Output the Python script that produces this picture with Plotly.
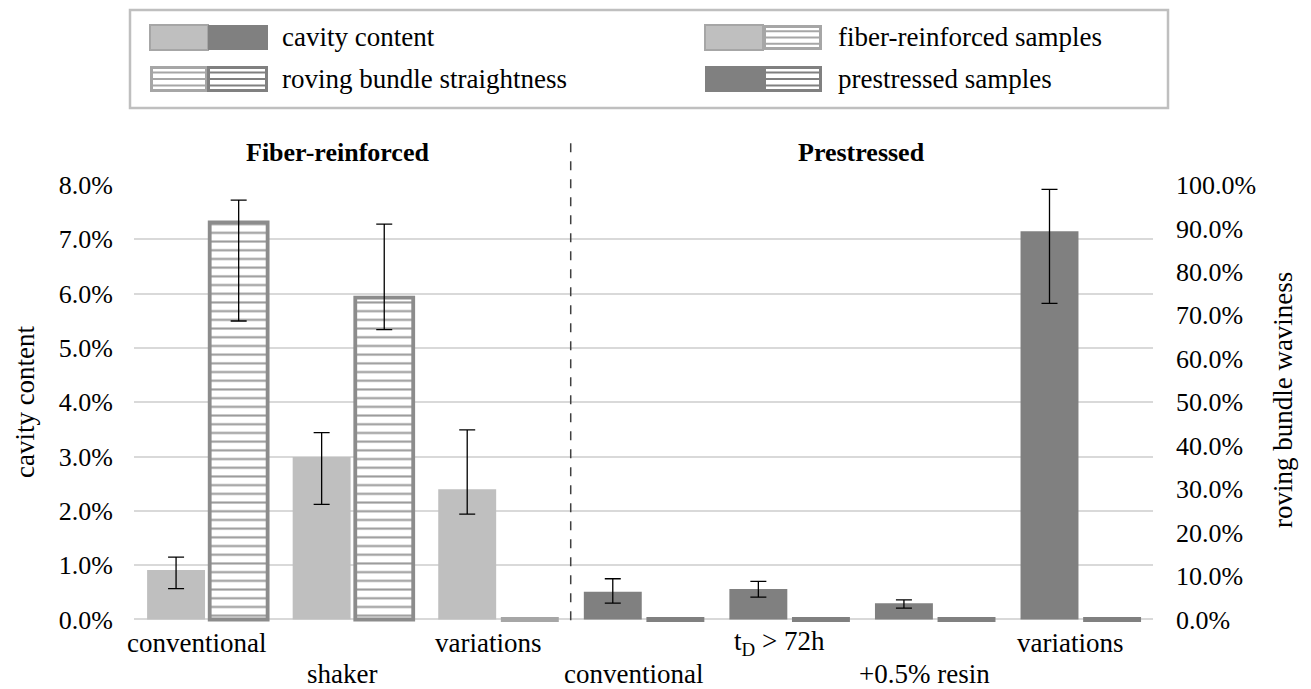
import plotly.graph_objects as go

# ---------------- data ----------------
categories = ["conventional", "shaker", "variations",
              "conventional", "t<sub>D</sub> &gt; 72h", "+0.5% resin", "variations"]
label_row = [1, 2, 1, 2, 1, 2, 1]
sample_group = ["fiber", "fiber", "fiber",
                "prestressed", "prestressed", "prestressed", "prestressed"]

cavity = [0.0091, 0.0299, 0.0240, 0.0051, 0.0056, 0.0030, 0.0715]
cavity_hi = [0.0115, 0.0344, 0.0349, 0.0075, 0.0070, 0.0036, 0.0792]
cavity_lo = [0.0057, 0.0212, 0.0194, 0.0030, 0.0041, 0.0021, 0.0582]

waviness = [0.914, 0.741, 0.0, 0.0, 0.0, 0.0, 0.0]
waviness_hi = [0.965, 0.910, None, None, None, None, None]
waviness_lo = [0.687, 0.667, None, None, None, None, None]

section_titles = ["Fiber-reinforced", "Prestressed"]
legend_labels = ["cavity content", "roving bundle straightness",
                 "fiber-reinforced samples", "prestressed samples"]

# ---------------- styles ----------------
W, H = 1311, 689
ML, MR, MT = 134, 158, 185
ZERO_Y = 619.3            # pixel row of the 0 line
Y1_MAX, Y2_MAX = 0.08, 1.0
PAD = 0.015               # fraction of range shown below zero (room for zero bars)
PH = (ZERO_Y - MT) * (1 + PAD)
MB = H - MT - PH
PW = W - ML - MR

LIGHT = "#bfbfbf"
LIGHT_EDGE = "#a6a6a6"
DARK = "#808080"
HATCH_FIBER = "#8c8c8c"
FONT = "Liberation Serif, Times New Roman, serif"
FS = 26
FS_TXT = 27

x = list(range(len(categories)))
fill_colors = [LIGHT if g == "fiber" else DARK for g in sample_group]
edge_colors = []
edge_widths = []
for g, v in zip(sample_group, waviness):
    if g == "fiber":
        edge_colors.append(HATCH_FIBER if v > 0 else LIGHT_EDGE)
    else:
        edge_colors.append(DARK)
    edge_widths.append(3.8 if v > 0 else 5)


def err(vals, hi, lo):
    plus = [None if h is None else h - v for v, h in zip(vals, hi)]
    minus = [None if l is None else v - l for v, l in zip(vals, lo)]
    # drop trailing missing entries so no error bar is drawn for them
    while plus and plus[-1] is None:
        plus.pop()
    while minus and minus[-1] is None:
        minus.pop()
    return plus, minus


cp, cm = err(cavity, cavity_hi, cavity_lo)
wp, wm = err(waviness, waviness_hi, waviness_lo)

bar_w = 0.398
fig = go.Figure()
fig.add_trace(go.Bar(
    x=x, y=cavity, yaxis="y", width=bar_w, offset=-0.41,
    marker=dict(color=fill_colors, line=dict(width=0)),
    error_y=dict(type="data", array=cp, arrayminus=cm, color="black",
                 thickness=1.3, width=8, visible=True),
    showlegend=False, hoverinfo="skip",
))
fig.add_trace(go.Bar(
    x=x, y=waviness, yaxis="y2", width=bar_w, offset=0.02,
    marker=dict(color="white", line=dict(width=edge_widths, color=edge_colors),
                pattern=dict(shape="-", size=8.7, solidity=0.24,
                             fgcolor="#9a9a9a", bgcolor="white",
                             fillmode="replace")),
    error_y=dict(type="data", array=wp, arrayminus=wm, color="black",
                 thickness=1.3, width=8, visible=True),
    showlegend=False, hoverinfo="skip",
))

fig.update_layout(
    width=W, height=H,
    margin=dict(l=ML, r=MR, t=MT, b=MB, autoexpand=False),
    paper_bgcolor="white", plot_bgcolor="white",
    font=dict(family=FONT, size=FS, color="black"),
    barmode="overlay",
    showlegend=False,
    xaxis=dict(range=[-0.5, 6.5], showticklabels=False,
               showgrid=False, zeroline=False, showline=False,
               ticks="", fixedrange=True),
    yaxis=dict(range=[-Y1_MAX * PAD, Y1_MAX], tick0=0, dtick=0.01, tickformat=".1%",
               showgrid=True, gridcolor="#d9d9d9", gridwidth=2,
               zeroline=False, showline=False, ticks="",
               ticklabelstandoff=20, tickfont=dict(size=FS)),
    yaxis2=dict(range=[-Y2_MAX * PAD, Y2_MAX], tick0=0, dtick=0.1, tickformat=".1%",
                overlaying="y", side="right", showgrid=False,
                zeroline=False, showline=False, ticks="",
                ticklabelstandoff=22, tickfont=dict(size=FS)),
)


def px(xp):
    return (xp - ML) / PW


def py(yp):
    return (H - MB - yp) / PH


shapes = []
annotations = []

# category labels (two staggered rows)
for xi, (lab, row) in enumerate(zip(categories, label_row)):
    annotations.append(dict(text=lab, xref="x", yref="paper", x=xi, xshift=-10,
                            y=py(643 if row == 1 else 674), showarrow=False,
                            xanchor="center", yanchor="middle",
                            font=dict(size=FS_TXT)))

# axis titles
annotations.append(dict(text="cavity content", xref="paper", yref="paper",
                        x=px(25), y=py(402), textangle=-90, showarrow=False,
                        xanchor="center", yanchor="middle",
                        font=dict(size=FS_TXT)))
annotations.append(dict(text="roving bundle waviness", xref="paper", yref="paper",
                        x=px(1283), y=py(400), textangle=-90, showarrow=False,
                        xanchor="center", yanchor="middle",
                        font=dict(size=FS_TXT)))

# section headers + divider
annotations.append(dict(text="<b>%s</b>" % section_titles[0], xref="x", yref="paper",
                        x=0.9, y=py(153), showarrow=False, xanchor="center",
                        yanchor="middle", font=dict(size=FS)))
annotations.append(dict(text="<b>%s</b>" % section_titles[1], xref="x", yref="paper",
                        x=4.5, y=py(153), showarrow=False, xanchor="center",
                        yanchor="middle", font=dict(size=FS)))
shapes.append(dict(type="line", xref="x", yref="paper", x0=2.5, x1=2.5,
                   y0=py(620), y1=py(138), line=dict(color="#404040", width=1.5, dash="dash")))

# legend box
shapes.append(dict(type="rect", xref="paper", yref="paper",
                   x0=px(130), x1=px(1168), y0=py(10), y1=py(108),
                   line=dict(color="#bfbfbf", width=2.5), fillcolor="white"))


def solid(x0, x1, y0, y1, color, edge=None):
    shapes.append(dict(type="rect", xref="paper", yref="paper",
                       x0=px(x0), x1=px(x1), y0=py(y0), y1=py(y1),
                       fillcolor=color,
                       line=dict(color=edge or color, width=2 if edge else 0)))


def hatched(x0, x1, y0, y1, color):
    shapes.append(dict(type="rect", xref="paper", yref="paper",
                       x0=px(x0 + 1.5), x1=px(x1 - 1.5), y0=py(y0 + 1.5), y1=py(y1 - 1.5),
                       fillcolor="white", line=dict(color=color, width=3)))
    for k in range(1, 4):
        yy = y0 + (y1 - y0) * k / 4
        shapes.append(dict(type="line", xref="paper", yref="paper",
                           x0=px(x0 + 1.5), x1=px(x1 - 1.5), y0=py(yy), y1=py(yy),
                           line=dict(color=color, width=2)))


r1 = (25, 50)
r2 = (66, 92)
# cavity content
solid(150, 208, r1[0], r1[1], LIGHT, LIGHT_EDGE)
solid(208, 268, r1[0], r1[1], DARK)
# roving bundle straightness
hatched(150, 208, r2[0], r2[1], LIGHT_EDGE)
hatched(207, 268, r2[0], r2[1], DARK)
# fiber-reinforced samples
solid(705, 763, r1[0], r1[1], LIGHT, LIGHT_EDGE)
hatched(763, 822, r1[0], r1[1], LIGHT_EDGE)
# prestressed samples
solid(705, 763, r2[0], r2[1], DARK)
hatched(763, 822, r2[0], r2[1], DARK)

for lab, lx, ly in zip(legend_labels, [280, 280, 836, 836], [37, 79, 37, 79]):
    annotations.append(dict(text=lab, xref="paper", yref="paper", x=px(lx), y=py(ly),
                            showarrow=False, xanchor="left", yanchor="middle",
                            font=dict(size=FS_TXT)))

fig.update_layout(shapes=shapes, annotations=annotations)
fig.write_html("out.html")
